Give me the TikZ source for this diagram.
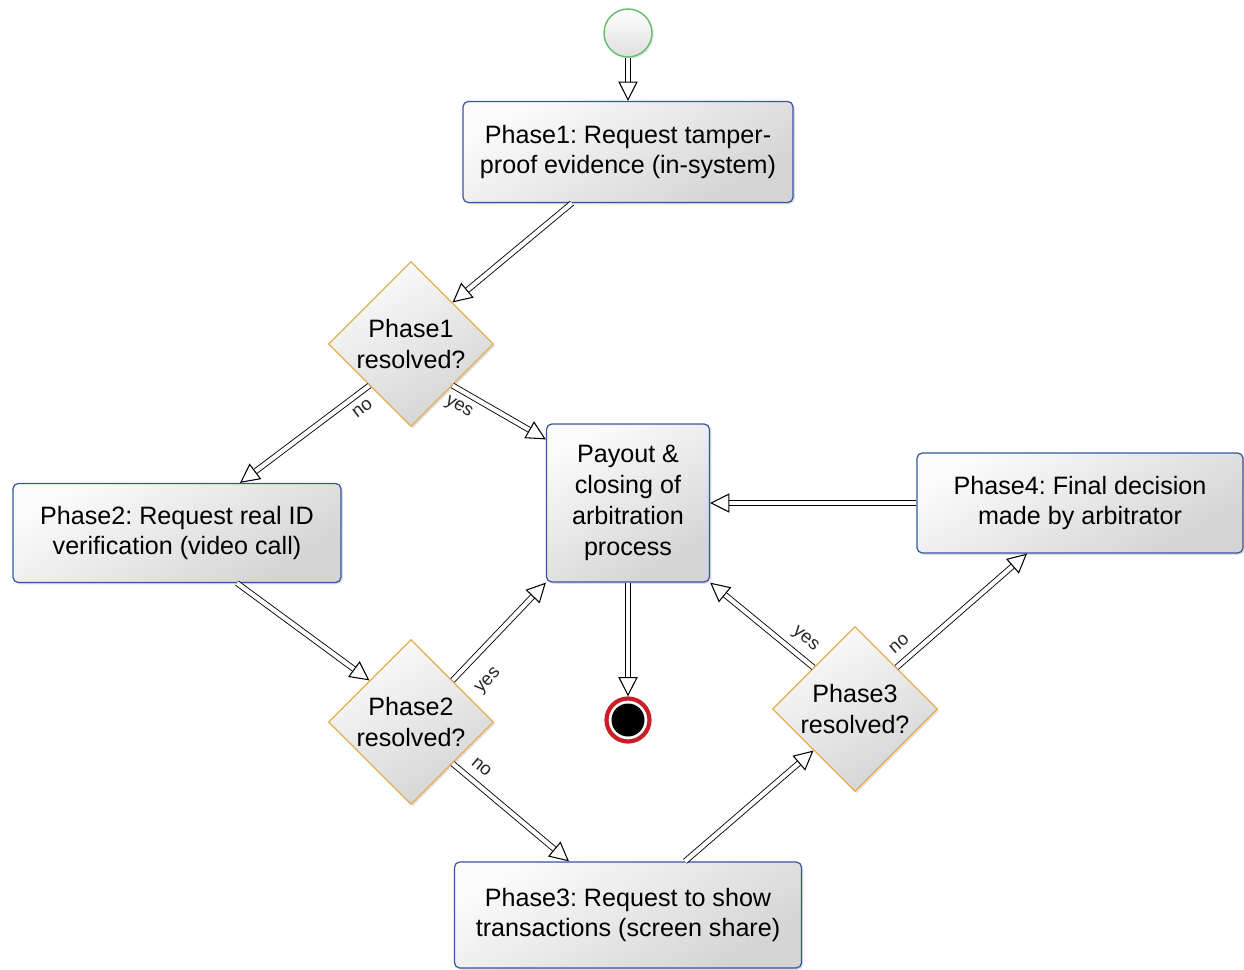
\documentclass[tikz,border=0pt]{standalone}
\usepackage{fontspec}
\setmainfont{Liberation Sans}
\frenchspacing
\usepackage{tikz}
\usetikzlibrary{shapes.geometric, arrows.meta, positioning, shadows}
\usepackage{xcolor}
\definecolor{boxblue}{RGB}{56, 84, 160}
\definecolor{diaorange}{RGB}{232, 172, 80}
\definecolor{startgreen}{RGB}{95, 190, 105}
\definecolor{endred}{RGB}{200, 30, 40}

\begin{document}
\begin{tikzpicture}[
    on grid,
    block/.style={
        rectangle,
        draw=boxblue,
        line width=0.7pt,
        top color=gray!3,
        bottom color=gray!34,
        shading angle=30,
        align=center,
        rounded corners=3pt,
        drop shadow={opacity=0.25, shadow xshift=1pt, shadow yshift=-1pt},
        font=\fontsize{14.3}{17.6}\selectfont,
        execute at begin node={\rule{0pt}{16pt}}
    },
    decision/.style={
        diamond,
        aspect=1,
        draw=diaorange,
        line width=0.7pt,
        top color=gray!3,
        bottom color=gray!34,
        shading angle=30,
        inner sep=0pt,
        minimum size=3.3cm,
        drop shadow={opacity=0.25, shadow xshift=1pt, shadow yshift=-1pt}
    },
    dtext/.style={align=center, font=\fontsize{14.3}{17.6}\selectfont},
    line/.style={draw, double, double distance=2.4pt, line width=0.5pt,
        -{Triangle[open, length=11pt, width=11pt, line width=0.6pt]}},
    lbl/.style={font=\fontsize{10.5}{12}\selectfont, text=black!85, inner sep=1pt}
]
    \useasboundingbox (0,0) rectangle (24.88,-19.4);

    % Nodes
    \node [circle, draw=startgreen, line width=0.8pt, top color=white, bottom color=gray!25,
        minimum size=0.96cm, drop shadow={opacity=0.2, shadow xshift=1pt, shadow yshift=-1pt}]
        (start) at (12.56,-0.66) {};

    \node [block, minimum width=6.6cm, minimum height=2.02cm, below=2.38cm of start] (phase1)
        {Phase1: Request tamper-\\proof evidence (in-system)};

    \node [decision, below left=3.84cm and 4.34cm of phase1,
        label={[dtext]center:{Phase1\\resolved?}}] (res1) {};

    \node [block, minimum width=3.26cm, minimum height=3.16cm, below=7.02cm of phase1] (payout)
        {Payout \&\\closing of\\arbitration\\process};

    \node [block, minimum width=6.52cm, minimum height=2cm, right=9.04cm of payout] (phase4)
        {Phase4: Final decision\\made by arbitrator};

    \node [block, minimum width=6.56cm, minimum height=1.98cm, below left=3.78cm and 4.68cm of res1] (phase2)
        {Phase2: Request real ID\\verification (video call)};

    \node [decision, below=7.56cm of res1,
        label={[dtext]center:{Phase2\\resolved?}}] (res2) {};

    \node [circle, draw=endred, line width=2.4pt, fill=white, minimum size=0.86cm,
        path picture={\fill[black] (path picture bounding box.center) circle (0.33cm);},
        below=4.34cm of payout] (finish) {};

    \node [decision, below right=4.12cm and 4.54cm of payout,
        label={[dtext]center:{Phase3\\resolved?}}] (res3) {};

    \node [block, minimum width=6.94cm, minimum height=2.12cm, below=8.24cm of payout] (phase3)
        {Phase3: Request to show\\transactions (screen share)};

    % Connections
    \path [line] (start) -- (phase1);
    \path [line] ([xshift=-1.12cm]phase1.south) -- (res1.north east);
    \path [line] (res1.south west) -- ([xshift=1.26cm]phase2.north)
        node[lbl, pos=0.12, sloped, below=4pt] {no};
    \path [line] (res1.south east) -- ([yshift=-0.32cm]payout.north west)
        node[lbl, pos=0.15, sloped, below=4pt] {yes};
    \path [line] ([xshift=1.2cm]phase2.south) -- (res2.north west);
    \path [line] (res2.north east) -- (payout.south west)
        node[lbl, pos=0.18, sloped, below=10pt] {yes};
    \path [line] (res2.south east) -- ([xshift=-1.18cm]phase3.north)
        node[lbl, pos=0.16, sloped, above=5pt] {no};
    \path [line] ([xshift=1.14cm]phase3.north) -- (res3.south west);
    \path [line] (res3.north west) -- (payout.south east)
        node[lbl, pos=0.18, sloped, above=4pt] {yes};
    \path [line] (res3.north east) -- ([xshift=-1.06cm]phase4.south)
        node[lbl, pos=0.1, sloped, above=5pt] {no};
    \path [line] (phase4.west) -- (phase4.west -| payout.east);
    \path [line] (payout) -- (finish);

\end{tikzpicture}
\end{document}
